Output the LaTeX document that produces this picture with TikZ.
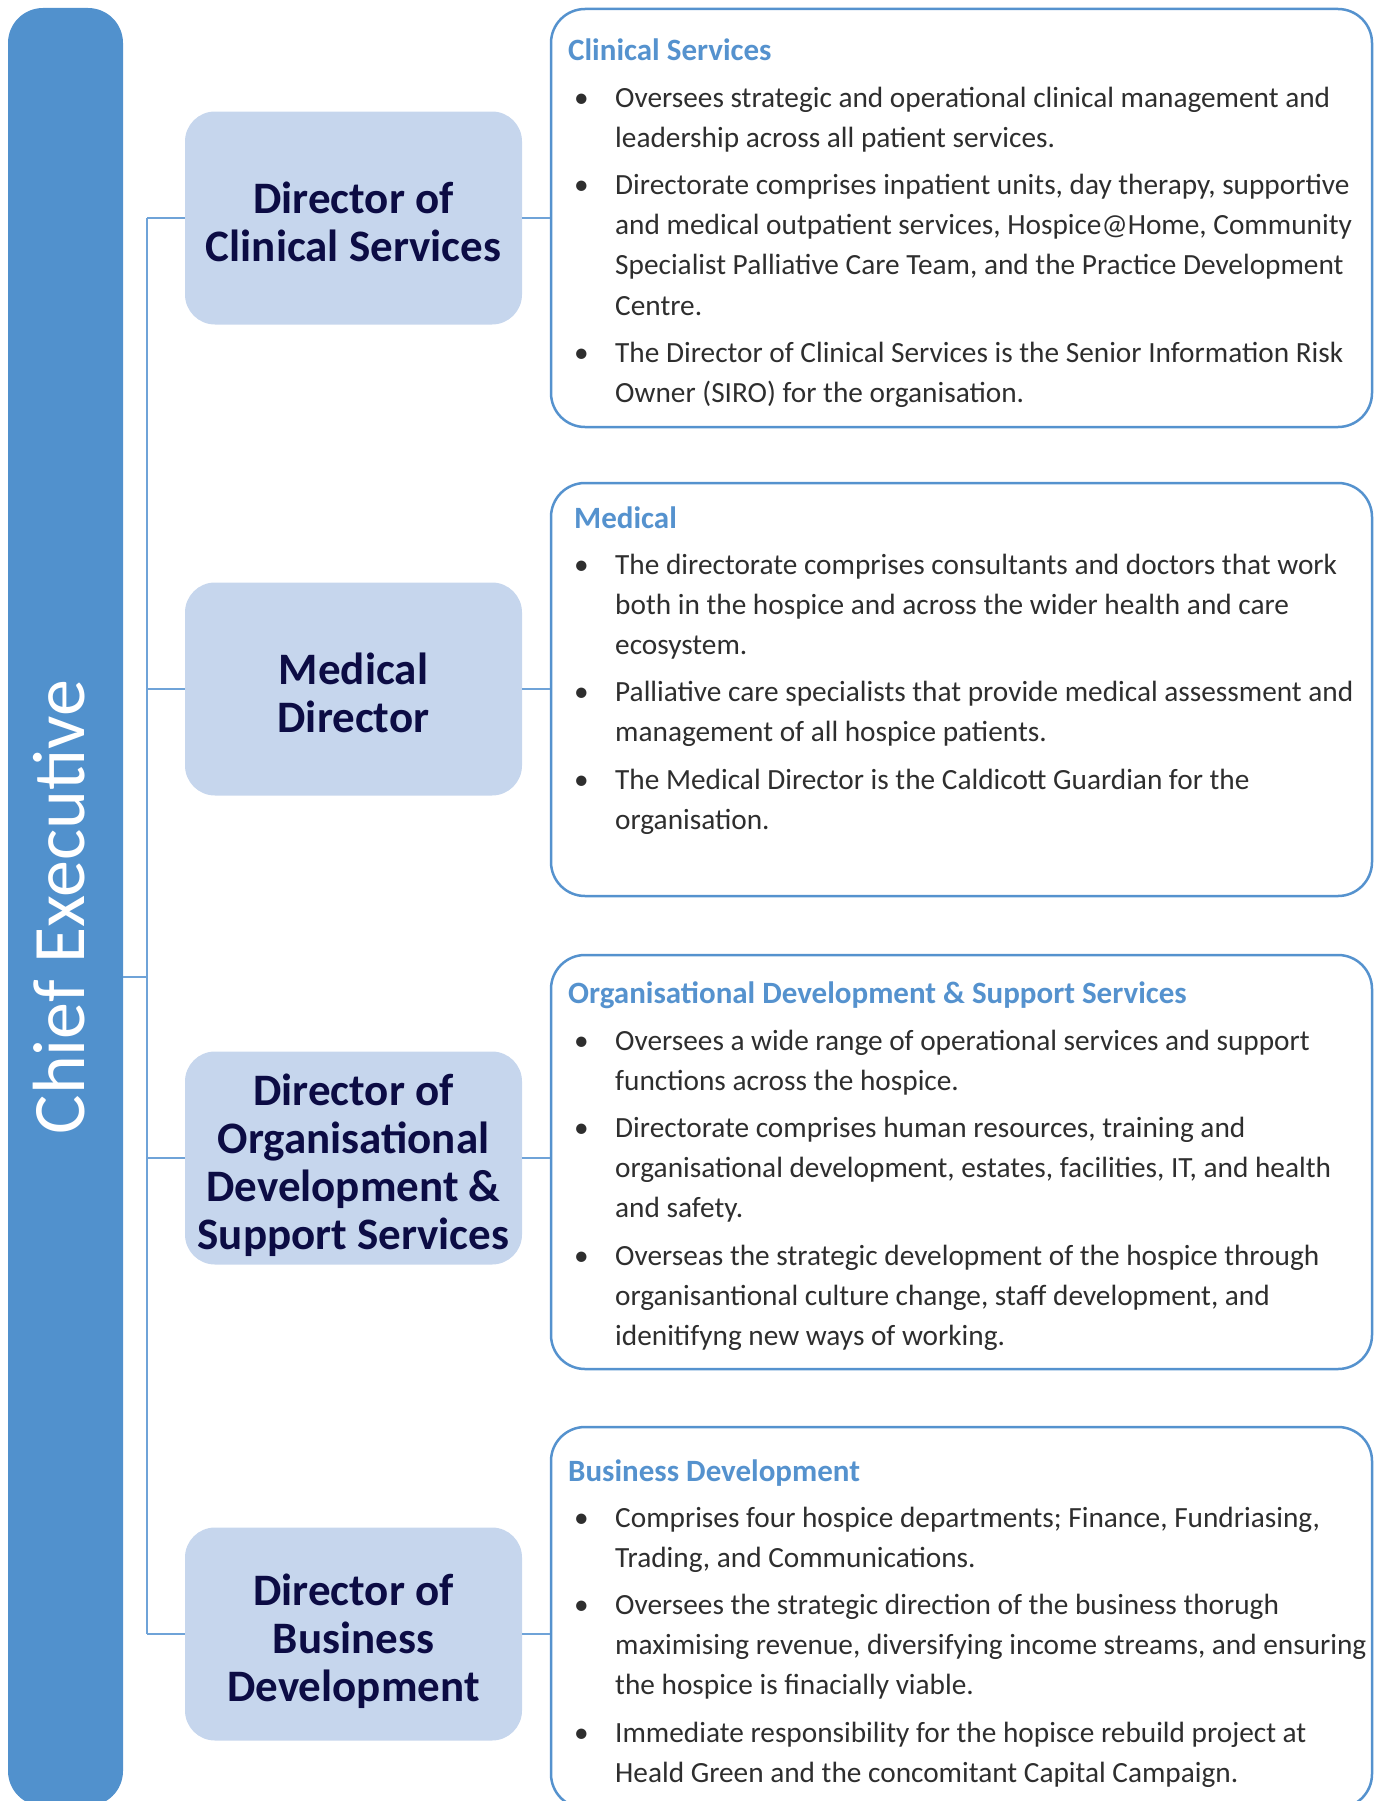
\documentclass[tikz,border=0pt]{standalone}
\usepackage{fontspec}
\setmainfont{Carlito}
\usepackage{tikz}

\definecolor{ceoblue}{HTML}{5191CD}
\definecolor{dirfill}{HTML}{C6D6ED}
\definecolor{navy}{HTML}{0C0C44}
\definecolor{headblue}{HTML}{5592CE}
\definecolor{linkblue}{HTML}{6FA3D8}
\definecolor{bodygrey}{HTML}{2E2E2E}

% bullet list set as a top-aligned table, so the node sits on its first baseline
\newcommand{\dutylist}[1]{\begin{tabular}[t]{@{}p{41pt}@{}l@{}}#1\end{tabular}}
\newcommand{\dutydot}{\textbullet}
% director titles sit a little below the middle of their box
\newcommand{\dirname}[1]{\raisebox{-10pt}[\height][\depth]{\begin{tabular}{@{}c@{}}#1\end{tabular}}}

\begin{document}
\begin{tikzpicture}[x=1pt,y=-1pt,
  ceobox/.style={fill=ceoblue,rounded corners=35pt,minimum width=115pt,minimum height=1798pt,
    inner sep=0pt,text=white,font=\fontsize{74}{80}\selectfont},
  dirbox/.style={fill=dirfill,rounded corners=30pt,minimum width=337pt,minimum height=213pt,
    inner sep=0pt,text=navy,font=\fontsize{45}{48}\selectfont\bfseries},
  rolebox/.style={draw=headblue,line width=2.5pt,rounded corners=34pt,minimum width=821pt},
  head/.style={anchor=base west,inner sep=0pt,text=headblue,font=\fontsize{31}{36}\selectfont\bfseries},
  duties/.style={anchor=base west,inner sep=0pt,text=bodygrey,font=\fontsize{29.3}{40.2}\selectfont},
  link/.style={draw=linkblue,line width=1.3pt}]
\useasboundingbox (0,0) rectangle (1379,1801);

\node[ceobox] (ceo) at (65.5,907) {\rotatebox{90}{\raisebox{-18.5pt}[0pt][0pt]{Chief Executive}}};

\node[dirbox] (dir1) at (353.5,218) {\dirname{Director of\\Clinical Services}};
\node[dirbox] (dir2) at (353.5,689) {\dirname{Medical\\Director}};
\node[dirbox] (dir3) at (353.5,1158) {\dirname{Director of\\Organisational\\Development \&\\Support Services}};
\node[dirbox] (dir4) at (353.5,1634) {\dirname{Director of\\Business\\Development}};

\node[rolebox,minimum height=418pt] (role1) at (961.5,218) {};
\node[rolebox,minimum height=413pt] (role2) at (961.5,689.5) {};
\node[rolebox,minimum height=414pt] (role3) at (961.5,1162) {};
\node[rolebox,minimum height=381pt] (role4) at (961.5,1617.5) {};

% clinical services
\node[head] (head1) at (568,60) {Clinical Services};
\node[duties] (list1) at (574,107) {\dutylist{
  \dutydot & Oversees strategic and operational clinical management and\\
       & leadership across all patient services.\\[7pt]
  \dutydot & Directorate comprises inpatient units, day therapy, supportive\\
       & and medical outpatient services, Hospice@Home, Community\\
       & Specialist Palliative Care Team, and the Practice Development\\
       & Centre.\\[7pt]
  \dutydot & The Director of Clinical Services is the Senior Information Risk\\
       & Owner (SIRO) for the organisation.}};

% medical
\node[head] (head2) at (574,528) {Medical};
\node[duties] (list2) at (574,574) {\dutylist{
  \dutydot & The directorate comprises consultants and doctors that work\\
       & both in the hospice and across the wider health and care\\
       & ecosystem.\\[7pt]
  \dutydot & Palliative care specialists that provide medical assessment and\\
       & management of all hospice patients.\\[7pt]
  \dutydot & The Medical Director is the Caldicott Guardian for the\\
       & organisation.}};

% organisational development
\node[head] (head3) at (568,1003) {Organisational Development \& Support Services};
\node[duties] (list3) at (574,1050) {\dutylist{
  \dutydot & Oversees a wide range of operational services and support\\
       & functions across the hospice.\\[7pt]
  \dutydot & Directorate comprises human resources, training and\\
       & organisational development, estates, facilities, IT, and health\\
       & and safety.\\[7pt]
  \dutydot & Overseas the strategic development of the hospice through\\
       & organisantional culture change, staff development, and\\
       & idenitifyng new ways of working.}};

% business development
\node[head] (head4) at (568,1481) {Business Development};
\node[duties] (list4) at (574,1527) {\dutylist{
  \dutydot & Comprises four hospice departments; Finance, Fundriasing,\\
       & Trading, and Communications.\\[7pt]
  \dutydot & Oversees the strategic direction of the business thorugh\\
       & maximising revenue, diversifying income streams, and ensuring\\
       & the hospice is finacially viable.\\[7pt]
  \dutydot & Immediate responsibility for the hopisce rebuild project at\\
       & Heald Green and the concomitant Capital Campaign.}};

\coordinate (spine) at (147,977);
\draw[link] (ceo.east |- spine) -- (spine);
\draw[link] (spine |- dir1.west) -- (spine |- dir4.west);
\foreach \i in {1,...,4} {
  \draw[link] (spine |- dir\i.west) -- (dir\i.west);
  \draw[link] (dir\i.east) -- (dir\i.east -| role\i.west);
}
\end{tikzpicture}
\end{document}
